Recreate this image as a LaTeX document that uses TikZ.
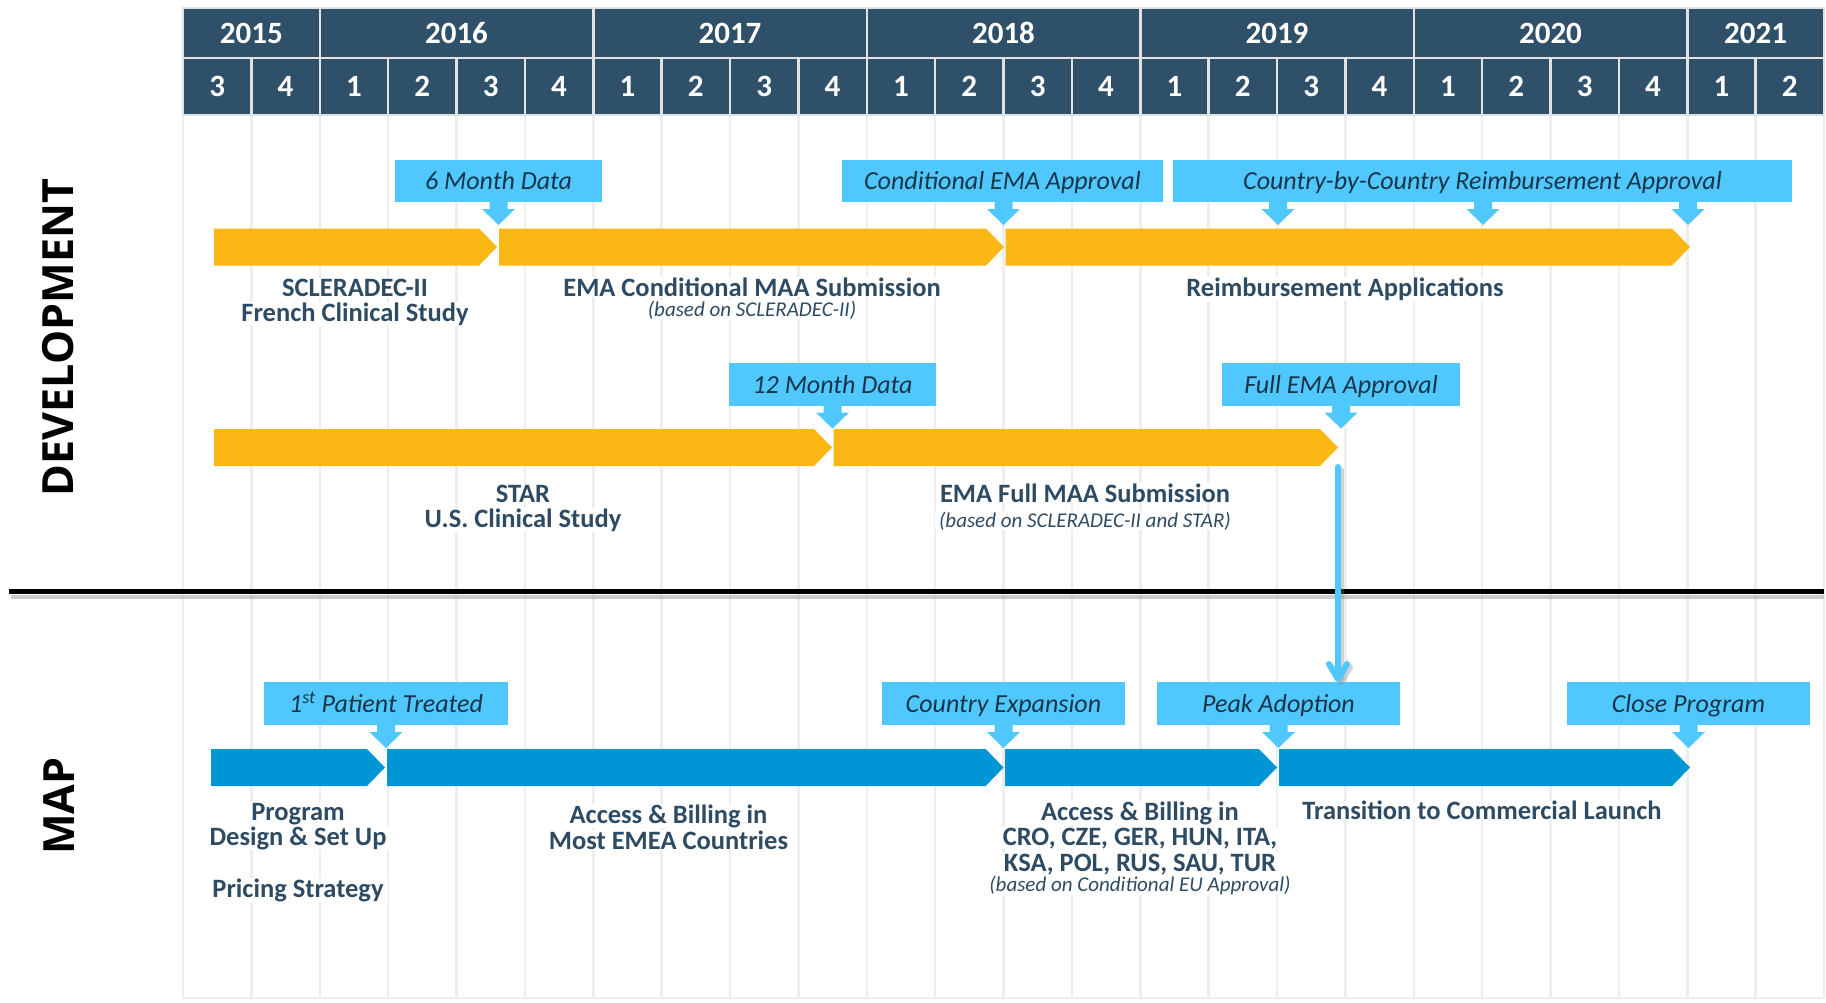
\documentclass[tikz,border=0pt]{standalone}
\usepackage{fontspec}
\setmainfont{Carlito}
\newfontfamily\osans{Open Sans}
\usetikzlibrary{arrows.meta}
\definecolor{hdr}{RGB}{47,80,105}
\definecolor{devyellow}{RGB}{251,184,21}
\definecolor{mapblue}{RGB}{0,150,213}
\definecolor{call}{RGB}{80,200,253}
\definecolor{calltxt}{RGB}{22,52,74}
\definecolor{lbltxt}{RGB}{46,75,100}
\definecolor{gridc}{RGB}{238,238,238}
\definecolor{hdrline}{RGB}{226,226,226}
\newcommand\chevbar[4]{\fill[fill=#1] (#2,{#4-18.5}) -- ({#3-18},{#4-18.5}) -- (#3,#4) -- ({#3-18},{#4+18.5}) -- (#2,{#4+18.5}) -- cycle;}
\newcommand\calloutptr[2]{\fill[call] ({#1-9},{#2-1}) rectangle ({#1+9},{#2+7}) ({#1-16.5},{#2+7}) -- ({#1+16.5},{#2+7}) -- (#1,{#2+23}) -- cycle;}
\begin{document}
\begin{tikzpicture}[x=1pt,y=-1pt,
  hdrcell/.style={fill=hdr, draw=hdrline, line width=2.5pt, inner sep=0pt, text=white, font=\fontsize{31}{34}\selectfont\bfseries},
  callbox/.style={fill=call, inner sep=0pt, minimum height=42.5pt, text height=20pt, text depth=2pt, font=\fontsize{26}{30}\selectfont\itshape, text=calltxt},
  lbl/.style={anchor=base, fill=white, inner xsep=4pt, inner ysep=0.5pt, text=lbltxt, font=\fontsize{26.5}{30}\selectfont\bfseries},
  sublbl/.style={anchor=base, fill=white, inner xsep=4pt, inner ysep=0.5pt, text=lbltxt, font=\fontsize{21}{24}\selectfont\itshape},
  side/.style={rotate=90, text=black, font=\osans\bfseries\fontsize{43}{46}\selectfont}]
\useasboundingbox (0,0) rectangle (1826,1002);
\fill[white] (0,0) rectangle (1826,1002);
% grid
\foreach \k in {0,...,24}{
  \pgfmathsetmacro\gx{183+68.375*\k}
  \draw[gridc, line width=2.5pt] (\gx,115) -- (\gx,998);
}
\draw[gridc, line width=2.5pt] (183,998) -- (1824,998);
% header
\foreach \yr/\a/\b in {2015/0/2,2016/2/6,2017/6/10,2018/10/14,2019/14/18,2020/18/22,2021/22/24}{
  \pgfmathsetmacro\cx{183+68.375*(\a+\b)/2}
  \pgfmathsetmacro\w{68.375*(\b-\a)}
  \node[hdrcell, minimum width=\w pt, minimum height=50pt] (yr\yr) at (\cx,33) {\yr};
}
\foreach \q [count=\i from 0] in {3,4,1,2,3,4,1,2,3,4,1,2,3,4,1,2,3,4,1,2,3,4,1,2}{
  \pgfmathsetmacro\cx{183+68.375*(\i+0.5)}
  \node[hdrcell, minimum width=68.375pt, minimum height=57pt] (q\i) at (\cx,86.5) {\q};
}
% side titles
\node[side] (dev) at (58.5,337.5) {DEVELOPMENT};
\node[side] (map) at (59,806) {MAP};
% divider
\draw[black!40, opacity=.5, line width=4pt] (11,596.5) -- (1824,596.5);
\draw[black, line width=5.5pt] (9,591.5) -- (1824,591.5);
% development bars
\chevbar{devyellow}{214}{497}{247}
\chevbar{devyellow}{499}{1004}{247}
\chevbar{devyellow}{1005.5}{1690}{247}
\chevbar{devyellow}{214}{832}{447.5}
\chevbar{devyellow}{833.5}{1338}{447.5}
% map bars
\chevbar{mapblue}{211}{385}{767.5}
\chevbar{mapblue}{387}{1003.6}{767.5}
\chevbar{mapblue}{1005}{1277}{767.5}
\chevbar{mapblue}{1279}{1690}{767.5}
% callouts
\node[callbox, minimum width=207pt] (c6m) at (498.5,180.75) {6 Month Data};
\node[callbox, minimum width=321pt] (ccema) at (1002.5,180.75) {Conditional EMA Approval};
\node[callbox, minimum width=619pt] (ccbc) at (1482.5,180.75) {Country-by-Country Reimbursement Approval};
\calloutptr{498.5}{202}
\calloutptr{1003.5}{202}
\calloutptr{1278}{202}
\calloutptr{1483}{202}
\calloutptr{1688}{202}
\node[callbox, minimum width=207pt] (c12m) at (832.5,384.35) {12 Month Data};
\node[callbox, minimum width=238pt] (cfull) at (1341,384.35) {Full EMA Approval};
\calloutptr{832.5}{405.6}
\calloutptr{1341}{405.6}
\node[callbox, minimum width=244pt] (cpat) at (386,703.5) {1\textsuperscript{st} Patient Treated};
\node[callbox, minimum width=243pt] (cexp) at (1003.5,703.5) {Country Expansion};
\node[callbox, minimum width=243pt] (cpeak) at (1278.5,703.5) {Peak Adoption};
\node[callbox, minimum width=243pt] (cclose) at (1688.5,703.5) {Close Program};
\calloutptr{386}{725}
\calloutptr{1003.5}{725}
\calloutptr{1278.5}{725}
\calloutptr{1688.5}{725}
% labels
\node[lbl] (l1a) at (355,296) {SCLERADEC-II};
\node[lbl] (l1b) at (355,321.3) {French Clinical Study};
\node[lbl] (l2a) at (752,296) {EMA Conditional MAA Submission};
\node[sublbl] (l2b) at (752,316) {(based on SCLERADEC-II)};
\node[lbl] (l3) at (1345,296) {Reimbursement Applications};
\node[lbl] (l4a) at (523,502) {STAR};
\node[lbl] (l4b) at (523,527) {U.S. Clinical Study};
\node[lbl] (l5a) at (1085,502.5) {EMA Full MAA Submission};
\node[sublbl] (l5b) at (1085,527) {(based on SCLERADEC-II and STAR)};
\node[lbl] (m1a) at (298,820) {Program};
\node[lbl] (m1b) at (298,845.3) {Design \& Set Up};
\node[lbl] (m1c) at (298,897) {Pricing Strategy};
\node[lbl] (m2a) at (668.5,823) {Access \& Billing in};
\node[lbl] (m2b) at (668.5,849) {Most EMEA Countries};
\node[lbl] (m3a) at (1140,820.3) {Access \& Billing in};
\node[lbl] (m3b) at (1140,845.3) {CRO, CZE, GER, HUN, ITA,};
\node[lbl] (m3c) at (1140,871.3) {KSA, POL, RUS, SAU, TUR};
\node[sublbl] (m3d) at (1140,891) {(based on Conditional EU Approval)};
\node[lbl] (m4) at (1482,819.7) {Transition to Commercial Launch};
% connector from full approval to peak adoption
\coordinate (arrs) at (1338,467);
\draw[black!50, opacity=.35, line width=6pt, line cap=round, -{Straight Barb[length=15pt,width=18pt,round]}, transform canvas={xshift=3pt,yshift=-3pt}] (arrs) -- (arrs |- cpeak.north);
\draw[call, line width=6pt, line cap=round, -{Straight Barb[length=15pt,width=18pt,round]}] (arrs) -- (arrs |- cpeak.north);
\end{tikzpicture}
\end{document}
